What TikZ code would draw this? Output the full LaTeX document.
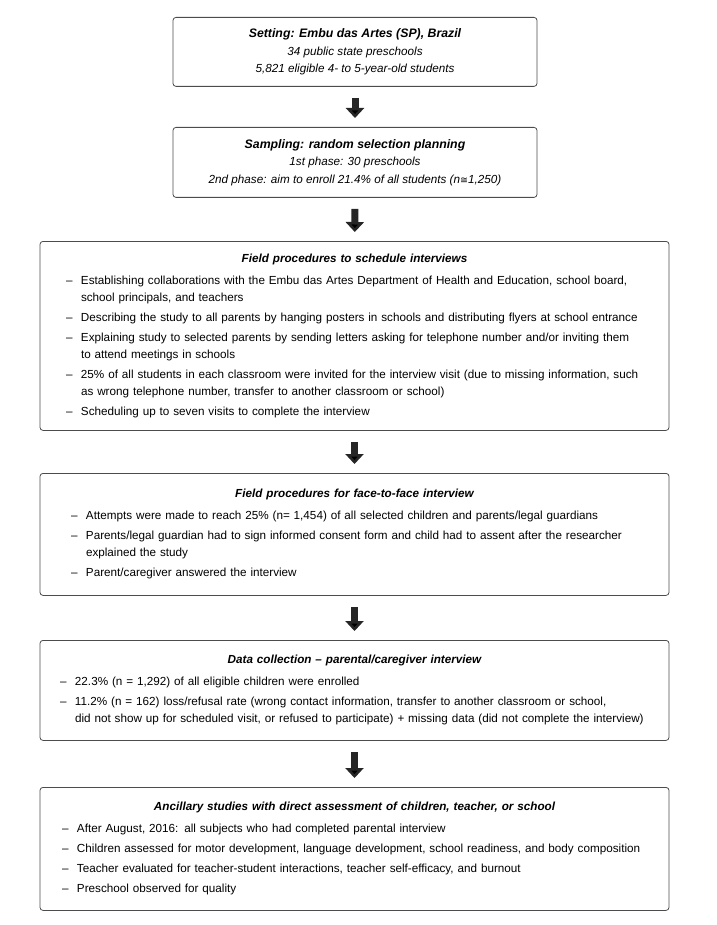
\documentclass[tikz,border=0pt]{standalone}
\usepackage{fontspec}
\setmainfont{Liberation Sans}
\newfontfamily\symfont{DejaVu Sans}
\usetikzlibrary{arrows.meta}

\newlength\dashin
\newcommand{\boxhead}[1]{{\centering\bfseries\itshape #1\par}\vspace{2pt}}
\newcommand{\itm}[1]{\par\vspace{3pt}\hangindent=\dimexpr\dashin+15pt\relax\hangafter=1\noindent\hspace*{\dashin}\makebox[15pt][l]{--}#1\par}

\tikzset{
  box/.style={draw=black!70,rounded corners=3pt,line width=0.8pt,anchor=north,font=\fontsize{11.7}{17}\selectfont},
  smallbox/.style={box,align=center,minimum width=364pt,font=\fontsize{11.7}{17.5}\selectfont\itshape},
  bigbox/.style={box,text width=595pt,inner xsep=17pt,align=left},
  connector/.style={->,line width=7pt,draw=black!85,shorten <=11pt,shorten >=9pt},
}

\begin{document}
\begin{tikzpicture}[x=1pt,y=-1pt,>={Triangle[width=18pt,length=10pt]}]
                \useasboundingbox (0,0) rectangle (716,925);
                \node[smallbox,minimum height=69pt](setting)at(355, 17){{\fontsize{12.3}{17.5}\selectfont\bfseries Setting: Embu das Artes (SP), Brazil}\\34 public state preschools\\5,821 eligible 4- to 5-year-old students};
                \node[smallbox,minimum height=70pt](sampling)at(355, 127){{\fontsize{12.3}{17.5}\selectfont\bfseries Sampling: random selection planning}\\1st phase: 30 preschools\\2nd phase: aim to enroll 21.4\% of all students (n{\symfont\fontsize{9.5}{9}\selectfont ≅}1,250)};
                \node[bigbox,minimum height=189pt](schedule)at(354.5, 241){\setlength\dashin{9pt}%
                  \boxhead{Field procedures to schedule interviews}
                  \itm{Establishing collaborations with the Embu das Artes Department of Health and Education, school board,\newline school principals, and teachers}
                  \itm{Describing the study to all parents by hanging posters in schools and distributing flyers at school entrance}
                  \itm{Explaining study to selected parents by sending letters asking for telephone number and/or inviting them\newline to attend meetings in schools}
                  \itm{25\% of all students in each classroom were invited for the interview visit (due to missing information, such\newline as wrong telephone number, transfer to another classroom or school)}
                  \itm{Scheduling up to seven visits to complete the interview}};
                \node[bigbox,minimum height=122pt](facetoface)at(354.5, 473){\setlength\dashin{14pt}%
                  \boxhead{Field procedures for face-to-face interview}
                  \itm{Attempts were made to reach 25\% (n= 1,454) of all selected children and parents/legal guardians}
                  \itm{Parents/legal guardian had to sign informed consent form and child had to assent after the researcher\newline explained the study}
                  \itm{Parent/caregiver answered the interview}};
                \node[bigbox,minimum height=100pt](datacoll)at(354.5, 640){\setlength\dashin{3pt}%
                  \boxhead{Data collection -- parental/caregiver interview}
                  \itm{22.3\% (n = 1,292) of all eligible children were enrolled}
                  \itm{11.2\% (n = 162) loss/refusal rate (wrong contact information, transfer to another classroom or school,\newline did not show up for scheduled visit, or refused to participate) + missing data (did not complete the interview)}};
                \node[bigbox,minimum height=123pt](ancillary)at(354.5, 787){\setlength\dashin{5pt}%
                  \boxhead{Ancillary studies with direct assessment of children, teacher, or school}
                  \itm{After August, 2016: all subjects who had completed parental interview}
                  \itm{Children assessed for motor development, language development, school readiness, and body composition}
                  \itm{Teacher evaluated for teacher-student interactions, teacher self-efficacy, and burnout}
                  \itm{Preschool observed for quality}};
                \path[connector](setting) edge (sampling)
                (sampling) edge (schedule)
                (schedule) edge (facetoface)
                (facetoface) edge (datacoll)
                (datacoll) edge (ancillary);
            \end{tikzpicture}
\end{document}
